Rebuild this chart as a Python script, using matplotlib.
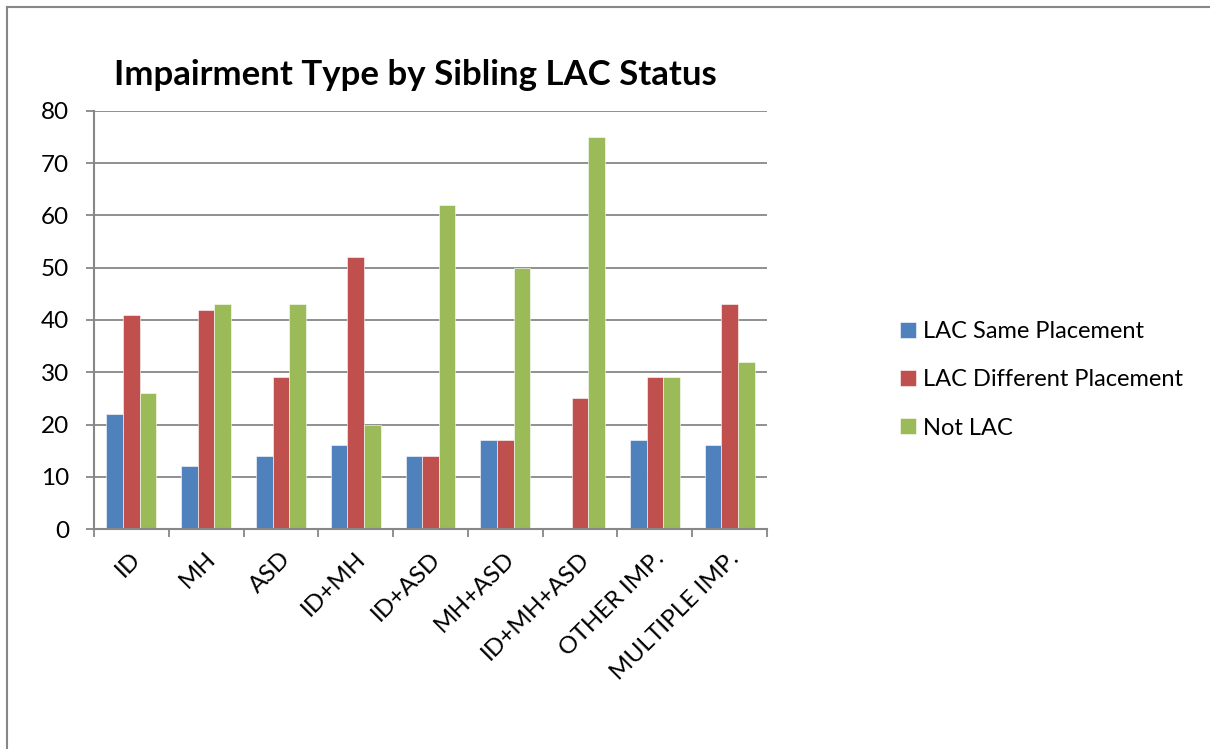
import matplotlib
matplotlib.use("Agg")
import matplotlib.pyplot as plt
import numpy as np
from matplotlib.lines import Line2D
from matplotlib.transforms import ScaledTranslation

categories = ['ID', 'MH', 'ASD', 'ID+MH', 'ID+ASD', 'MH+ASD', 'ID+MH+ASD',
              'OTHER IMP.', 'MULTIPLE IMP.']
same_placement = [22, 12, 14, 16, 14, 17, 0, 17, 16]
diff_placement = [41, 42, 29, 52, 14, 17, 25, 29, 43]
not_lac = [26, 43, 43, 20, 62, 50, 75, 29, 32]

series = [('LAC Same Placement', same_placement, '#4F81BD'),
          ('LAC Different Placement', diff_placement, '#C0504D'),
          ('Not LAC', not_lac, '#9BBB59')]

plt.rcParams['font.family'] = ['Lato', 'DejaVu Sans']
W, H = 1210, 749
fig = plt.figure(figsize=(W / 100, H / 100), dpi=100)

# chart area border (top and left only visible)
grey = '#878787'
fig.add_artist(Line2D([7 / W, 1], [1 - 7 / H, 1 - 7 / H], color=grey, lw=1.5,
                      transform=fig.transFigure))
fig.add_artist(Line2D([7 / W, 7 / W], [0, 1 - 7 / H], color=grey, lw=1.5,
                      transform=fig.transFigure))

ax = fig.add_axes([94 / W, (H - 529) / H, 673 / W, 418 / H])

x = np.arange(len(categories))
bw = 2 / 9
for i, (name, vals, col) in enumerate(series):
    ax.bar(x + (i - 1) * bw, vals, bw, color=col, label=name,
           edgecolor='white', linewidth=0.4, zorder=3)

ax.set_xlim(-0.5, len(categories) - 0.5)
ax.set_ylim(0, 80)
ax.set_yticks(range(0, 81, 10))
ax.yaxis.grid(True, color=grey, lw=1.3, zorder=0)
for s in ['top', 'right']:
    ax.spines[s].set_visible(False)
for s in ['left', 'bottom']:
    ax.spines[s].set_color(grey)
    ax.spines[s].set_linewidth(1.5)
    ax.spines[s].set_zorder(4)

ax.tick_params(axis='y', length=6, width=1.3, color=grey, labelsize=17.5, pad=12)
ax.set_xticks(x)
ax.set_xticks(np.arange(-0.5, len(categories), 1), minor=True)
ax.tick_params(axis='x', which='major', length=0, labelsize=17.5, pad=19)
ax.tick_params(axis='x', which='minor', length=6, width=1.3, color=grey)
ax.set_xticklabels(categories)
offset = ScaledTranslation(6 / 100, 0, fig.dpi_scale_trans)
for lbl in ax.get_xticklabels():
    lbl.set_rotation(45)
    lbl.set_ha('right')
    lbl.set_va('center')
    lbl.set_rotation_mode('anchor')
    lbl.set_transform(lbl.get_transform() + offset)

fig.text(415 / W, 1 - 75 / H, 'Impairment Type by Sibling LAC Status',
         fontsize=25, fontweight='bold', ha='center', va='center')

ax.legend(loc='center left', bbox_to_anchor=(891 / W, 1 - 380 / H),
          bbox_transform=fig.transFigure, frameon=False, fontsize=17,
          handlelength=0.65, handleheight=0.65, handletextpad=0.3,
          labelspacing=1.15, borderaxespad=0)

fig.savefig('out.png', dpi=100)
